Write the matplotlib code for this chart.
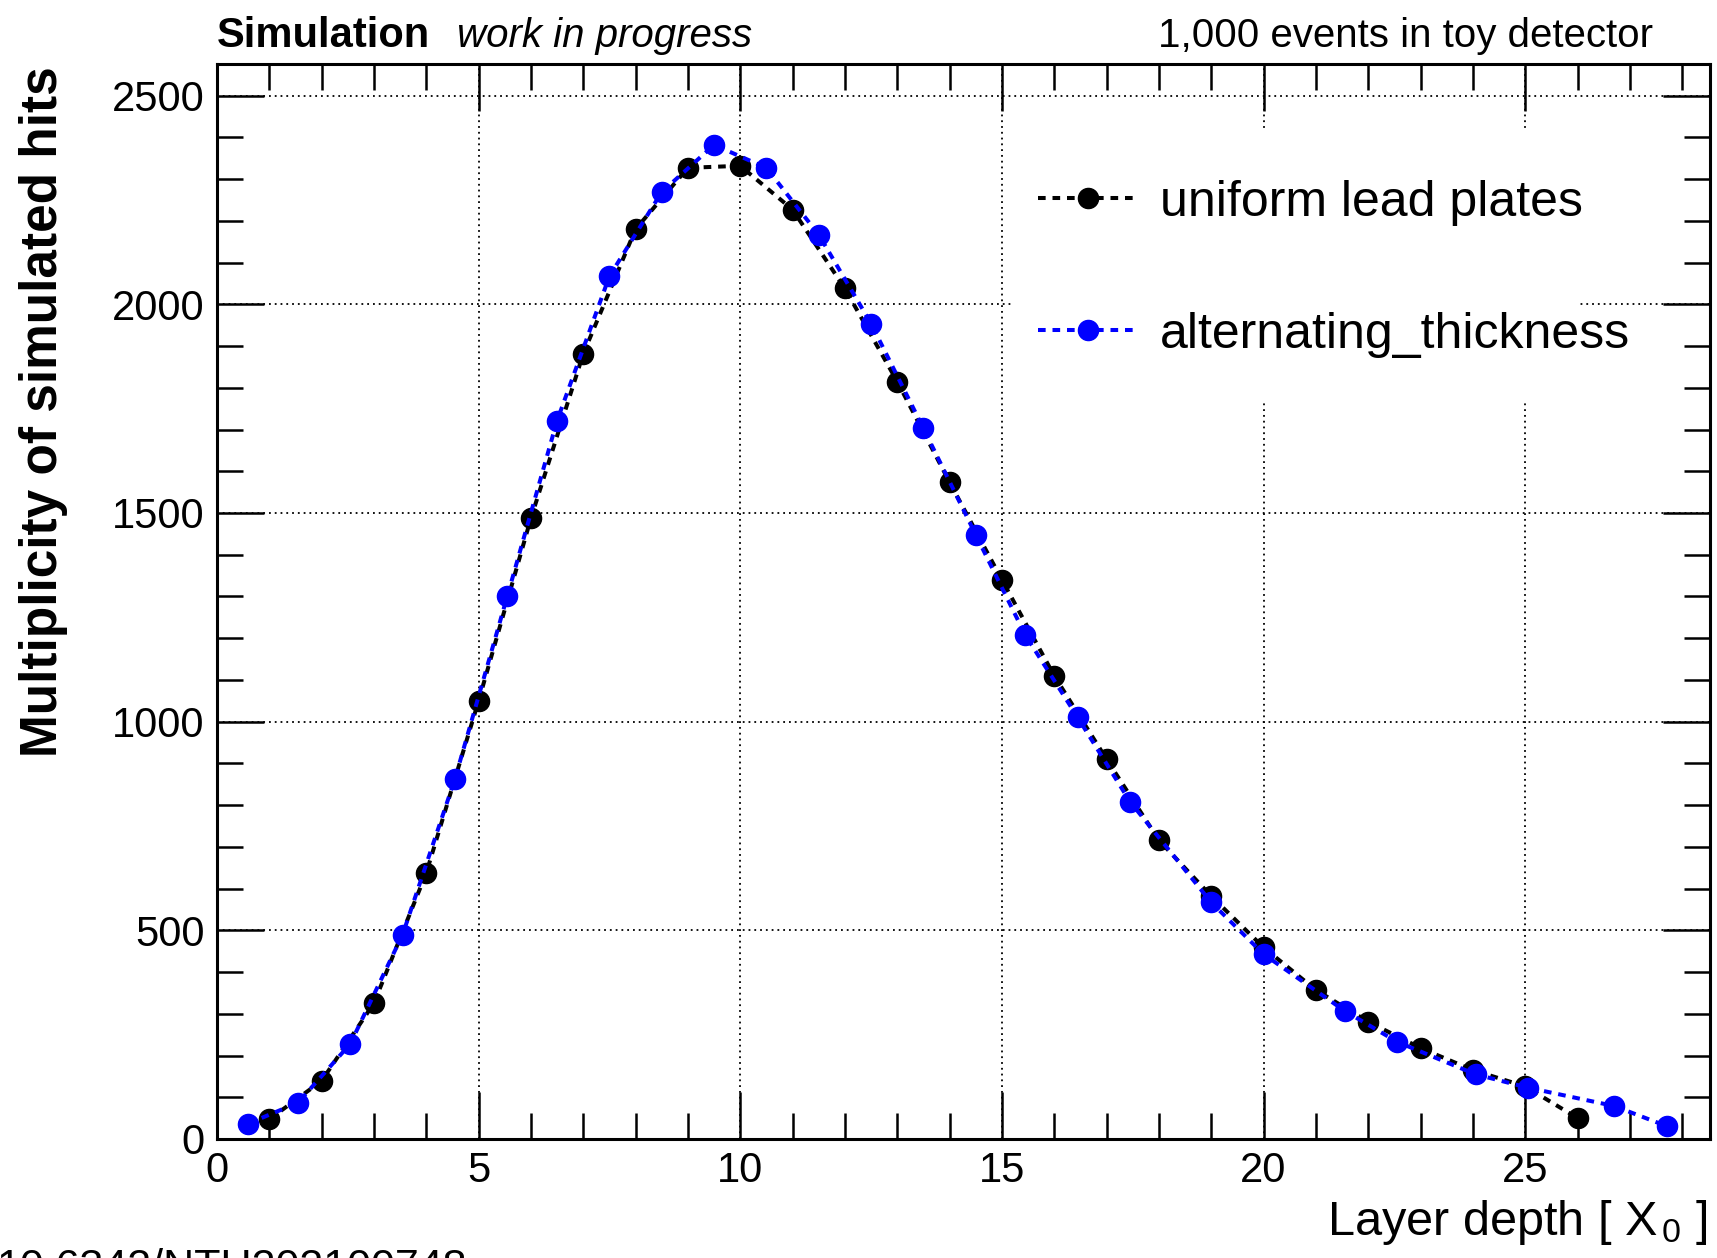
import matplotlib
matplotlib.use("Agg")
import matplotlib.pyplot as plt
from matplotlib.patches import Rectangle
from matplotlib.ticker import MultipleLocator

plt.rcParams['font.family'] = ['Liberation Sans', 'DejaVu Sans']
plt.rcParams['mathtext.fontset'] = 'custom'
plt.rcParams['mathtext.rm'] = 'Liberation Sans'
plt.rcParams['mathtext.it'] = 'Liberation Sans:italic'

# layer depth [X0] and hit multiplicity for the two calorimeter layouts
depth_uniform = [1, 2, 3, 4, 5, 6, 7, 8, 9, 10, 11, 12, 13,
                 14, 15, 16, 17, 18, 19, 20, 21, 22, 23, 24, 25, 26]
hits_uniform = [47, 139, 325, 637, 1049, 1487, 1881, 2180, 2327, 2332, 2227, 2038, 1815,
                1574, 1340, 1110, 910, 716, 582, 459, 357, 281, 218, 165, 126, 50]

depth_alternating = [0.6, 1.55, 2.55, 3.55, 4.55, 5.55, 6.5, 7.5, 8.5, 9.5, 10.5, 11.5, 12.5,
                     13.5, 14.5, 15.45, 16.45, 17.45, 19.0, 20.0, 21.55, 22.55, 24.05, 25.05,
                     26.7, 27.7]
hits_alternating = [37, 87, 228, 490, 863, 1301, 1721, 2067, 2269, 2382, 2327, 2167, 1954,
                    1703, 1448, 1207, 1010, 808, 567, 443, 307, 233, 155, 123, 79, 31]

labels = ["uniform lead plates", "alternating_thickness"]

fig = plt.figure(figsize=(17.17, 12.58), dpi=100)
ax = fig.add_axes([0.1263, 0.0946, 0.9959 - 0.1263, 0.9495 - 0.0946])

dash = (0, (1.9, 1.7))
ax.plot(depth_uniform, hits_uniform, color="black", ls=dash, lw=2.9,
        marker="o", ms=14.5, mec="black", mfc="black", label=labels[0], zorder=4)
ax.plot(depth_alternating, hits_alternating, color=(0, 0, 1), ls=dash, lw=2.9,
        marker="o", ms=14.5, mec=(0, 0, 1), mfc=(0, 0, 1), label=labels[1], zorder=5)

ax.set_xlim(0, 28.53)
ax.set_ylim(0, 2577)

ax.xaxis.set_major_locator(MultipleLocator(5))
ax.xaxis.set_minor_locator(MultipleLocator(1))
ax.yaxis.set_major_locator(MultipleLocator(500))
ax.yaxis.set_minor_locator(MultipleLocator(100))
ax.tick_params(which="both", direction="in", top=True, right=True, width=1.8,
               labelsize=30, pad=9)
ax.tick_params(which="major", length=34)
ax.tick_params(which="minor", length=19)
for s in ax.spines.values():
    s.set_linewidth(2.2)

ax.set_axisbelow(True)
ax.grid(which="major", color="black", ls=(0, (1, 2.2)), lw=1.3)

# white box behind the legend hides the grid there
ax.add_patch(Rectangle((15.2, 1766), 26.0 - 15.2, 2420 - 1766, facecolor="white",
                       edgecolor="none", zorder=2))

ax.legend(loc="center left", bbox_to_anchor=(15.69, 2085), bbox_transform=ax.transData,
          frameon=False, fontsize=36, borderpad=0, borderaxespad=0,
          handlelength=2.0, handletextpad=0.44, labelspacing=1.72)

fig.text(0.1263, 0.9626, "Simulation", fontsize=30, fontweight="bold", va="baseline")
fig.text(0.2659, 0.9626, "work in progress", fontsize=29, fontstyle="italic", va="baseline")
fig.text(0.9629, 0.9626, "1,000 events in toy detector", fontsize=29, ha="right",
         va="baseline")

fig.text(0.0256, 0.673, "Multiplicity of simulated hits", fontsize=37, fontweight="bold",
         rotation=90, ha="center", va="center")
fig.text(0.9947, 0.018, r"Layer depth [ $\mathregular{X_{\,0}}$ ]", fontsize=35, ha="right",
         va="baseline")
fig.text(-0.002, -0.017, "10.6342/NTU202100748", fontsize=31, va="baseline")

fig.savefig("out.png", dpi=100)
